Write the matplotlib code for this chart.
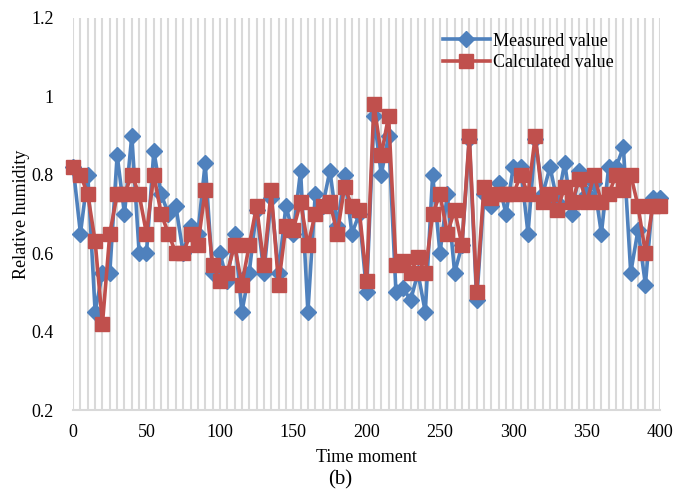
import numpy as np
import matplotlib
matplotlib.use("Agg")
import matplotlib.pyplot as plt
from matplotlib.ticker import FuncFormatter

plt.rcParams['font.family'] = ['Liberation Serif', 'DejaVu Serif']

# time moments, one point every 5
t = list(range(0, 401, 5))
measured = [0.82, 0.65, 0.80, 0.45, 0.55, 0.55, 0.85, 0.70, 0.90, 0.60,
            0.60, 0.86, 0.75, 0.70, 0.72, 0.60, 0.67, 0.65, 0.83, 0.55,
            0.60, 0.53, 0.65, 0.45, 0.55, 0.71, 0.55, 0.74, 0.55, 0.72,
            0.65, 0.81, 0.45, 0.75, 0.72, 0.81, 0.67, 0.80, 0.65, 0.70,
            0.50, 0.95, 0.80, 0.90, 0.50, 0.51, 0.48, 0.55, 0.45, 0.80,
            0.60, 0.75, 0.55, 0.62, 0.89, 0.48, 0.75, 0.72, 0.78, 0.70,
            0.82, 0.82, 0.65, 0.89, 0.75, 0.82, 0.73, 0.83, 0.70, 0.81,
            0.75, 0.78, 0.65, 0.82, 0.82, 0.87, 0.55, 0.66, 0.52, 0.74,
            0.74]
calculated = [0.82, 0.80, 0.75, 0.63, 0.42, 0.65, 0.75, 0.75, 0.80, 0.75,
              0.65, 0.80, 0.70, 0.65, 0.60, 0.60, 0.65, 0.62, 0.76, 0.57,
              0.53, 0.55, 0.62, 0.52, 0.62, 0.72, 0.57, 0.76, 0.52, 0.67,
              0.66, 0.73, 0.62, 0.70, 0.72, 0.73, 0.65, 0.77, 0.72, 0.71,
              0.53, 0.98, 0.85, 0.95, 0.57, 0.58, 0.55, 0.59, 0.55, 0.70,
              0.75, 0.65, 0.71, 0.62, 0.90, 0.50, 0.77, 0.74, 0.75, 0.75,
              0.75, 0.80, 0.75, 0.90, 0.73, 0.75, 0.71, 0.77, 0.73, 0.79,
              0.73, 0.80, 0.73, 0.75, 0.80, 0.76, 0.80, 0.72, 0.60, 0.72,
              0.72]

fig = plt.figure(figsize=(6.77, 4.97), dpi=100)
ax = fig.add_axes([0.108, 0.175, 0.867, 0.789])

ax.plot(t, measured, color='#4F81BD', lw=2.6, marker='D', ms=8,
        label='Measured value', clip_on=False, zorder=3)
ax.plot(t, calculated, color='#C0504D', lw=2.6, marker='s', ms=9.5,
        label='Calculated value', clip_on=False, zorder=4)

ax.set_xlim(0, 400)
ax.set_ylim(0.2, 1.2)
ax.set_xticks(np.arange(0, 401, 50))
ax.set_xticks(np.arange(0, 401, 5), minor=True)
ax.set_yticks(np.arange(0.2, 1.21, 0.2))
ax.yaxis.set_major_formatter(FuncFormatter(lambda v, p: ('%.1f' % v).rstrip('0').rstrip('.')))
ax.grid(axis='x', which='both', color='#d9d9d9', lw=1.5, zorder=0)
ax.set_axisbelow(True)
ax.tick_params(axis='both', which='both', length=0, labelsize=13)
ax.tick_params(axis='y', pad=14)
ax.tick_params(axis='x', pad=10)
for s in ['top', 'right', 'left']:
    ax.spines[s].set_visible(False)
ax.spines['bottom'].set_color('#d9d9d9')
ax.spines['bottom'].set_linewidth(1.5)

ax.set_xlabel('Time moment', fontsize=13, labelpad=6)
ax.set_ylabel('Relative humidity', fontsize=13, labelpad=1)
ax.legend(loc='upper right', bbox_to_anchor=(0.94, 0.99), frameon=False,
          fontsize=13, handlelength=2.6, borderaxespad=0.2, labelspacing=0.25,
          handletextpad=0.2)

fig.text(0.502, 0.034, '(b)', ha='center', va='center', fontsize=15)

fig.savefig('out.png', dpi=100)
